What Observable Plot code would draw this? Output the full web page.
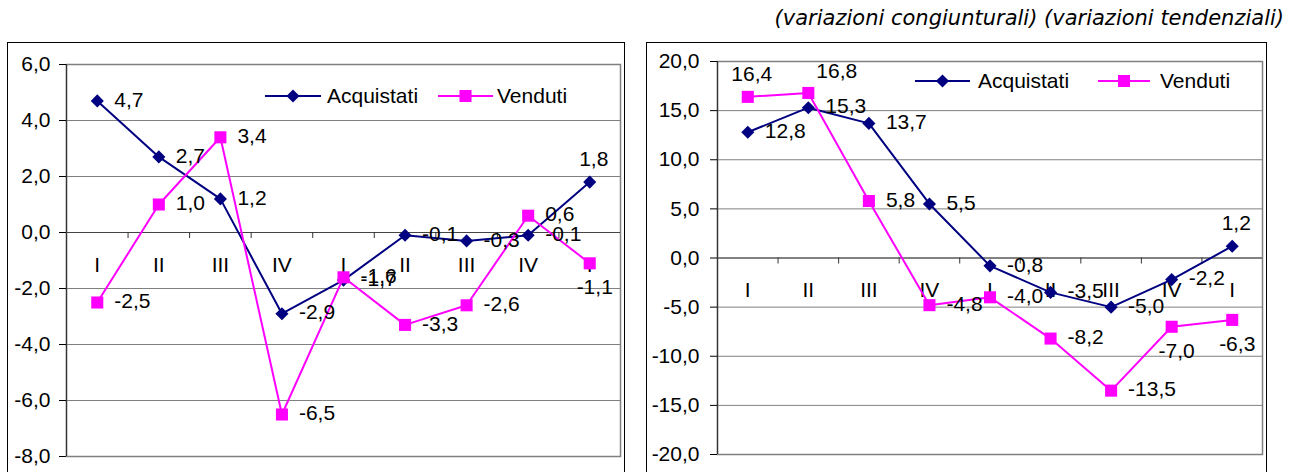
<!DOCTYPE html>
<html><head><meta charset="utf-8">
<script src="https://cdn.jsdelivr.net/npm/d3@7"></script>
<script src="https://cdn.jsdelivr.net/npm/@observablehq/plot@0.6"></script>
<style>
html,body{margin:0;padding:0;background:#fff;width:1297px;height:472px;overflow:hidden;}
body{position:relative;}
.box{position:absolute;border:1.5px solid #000;box-sizing:border-box;}
.title{position:absolute;top:5px;right:13px;font-family:"DejaVu Sans";font-style:italic;font-size:21px;white-space:nowrap;color:#000;line-height:26px;}
.panel{position:absolute;top:43px;}
</style></head><body>
<div class="title" id="title"></div>
<div class="box" style="left:7px;top:42px;width:618px;height:460px"></div>
<div class="box" style="left:646px;top:42px;width:621px;height:460px"></div>
<div class="panel" id="left" style="left:8px"></div>
<div class="panel" id="right" style="left:647px"></div>
<script>
const titleText = "(variazioni congiunturali) (variazioni tendenziali)";
const categories = ["I","II","III","IV","I","II","III","IV","I"];
const seriesNames = ["Acquistati","Venduti"];
const congAcquistati = [4.7, 2.7, 1.2, -2.9, -1.7, -0.1, -0.3, -0.1, 1.8];
const congVenduti = [-2.5, 1.0, 3.4, -6.5, -1.6, -3.3, -2.6, 0.6, -1.1];
const tendAcquistati = [12.8, 15.3, 13.7, 5.5, -0.8, -3.5, -5.0, -2.2, 1.2];
const tendVenduti = [16.4, 16.8, 5.8, -4.8, -4.0, -8.2, -13.5, -7.0, -6.3];
const congTicks = [-8, -6, -4, -2, 0, 2, 4, 6];
const tendTicks = [-20, -15, -10, -5, 0, 5, 10, 15, 20];
// data-label placement keywords (r = right, t = above, tr = above-right, b = below)
const congAcqPlace = ["r","r","r","r","r","r","r","r","t"];
const congVenPlace = ["r","r","r","r","r","r","r","r","b"];
const tendAcqPlace = ["r","r","r","r","r","r","r","r","t"];
const tendVenPlace = ["t","tr","r","r","r","r","r","b","b"];

document.getElementById("title").textContent = titleText;

const FONT = "Liberation Sans, Arial, sans-serif";
const NAVY = "#000080", MAGENTA = "#FF00FF";
const fmt = d => d.toFixed(1).replace(".", ",");
const placeOpts = {
  r: {textAnchor: "start", dx: 17, dy: -1},
  t: {textAnchor: "middle", dx: 4, dy: -23},
  tr: {textAnchor: "start", dx: 8, dy: -22},
  b: {textAnchor: "middle", dx: 5, dy: 24}
};

function rows(values, places) {
  return values.map((v, i) => ({x: i + 0.5, v, place: places[i]}));
}

function panel(cfg) {
  const A = rows(cfg.acq, cfg.acqPlace);
  const V = rows(cfg.ven, cfg.venPlace);
  const labelMarks = [];
  for (const data of [A, V]) {
    for (const p of Object.keys(placeOpts)) {
      labelMarks.push(Plot.text(data.filter(d => d.place === p), {
        x: "x", y: "v", text: d => fmt(d.v), fontSize: 21, fill: "#000", ...placeOpts[p]
      }));
    }
  }
  const chart = Plot.plot({
    width: cfg.width, height: 429,
    marginLeft: cfg.ml, marginRight: 4, marginTop: cfg.mt, marginBottom: cfg.mb,
    style: {fontFamily: FONT, fontSize: "21px", background: "transparent", color: "#000"},
    x: {domain: [0, 9], axis: null},
    y: {domain: cfg.domain},
    marks: [
      Plot.gridY(cfg.ticks, {stroke: "#808080", strokeOpacity: 1, strokeWidth: 1}),
      Plot.frame({stroke: "#808080", strokeWidth: 1.5}),
      Plot.ruleX([0], {stroke: "#333", strokeWidth: 1.2}),
      Plot.ruleY([0], {stroke: "#444", strokeWidth: 1.2}),
      Plot.ruleX(d3.range(1, 9), {x: d => d, y1: () => 0, y2: () => 0, insetBottom: -6, stroke: "#333", strokeWidth: 1}),
      Plot.axisY({ticks: cfg.ticks, tickFormat: fmt, tickSize: 7, tickPadding: cfg.pad, fontSize: 21, label: null, stroke: "#000"}),
      Plot.text(categories, {x: (d, i) => i + 0.5, y: () => 0, text: d => d, dy: cfg.catDy, fontSize: 21, fill: "#000"}),
      Plot.line(A, {x: "x", y: "v", stroke: NAVY, strokeWidth: 2}),
      Plot.dot(A, {x: "x", y: "v", symbol: "diamond2", r: 5.9, fill: NAVY, stroke: "none"}),
      Plot.line(V, {x: "x", y: "v", stroke: MAGENTA, strokeWidth: 2}),
      Plot.dot(V, {x: "x", y: "v", symbol: "square", r: 6.8, fill: MAGENTA, stroke: "none"}),
      ...labelMarks
    ]
  });
  // legend inside the plot area
  const svg = d3.select(chart);
  const items = [
    {name: seriesNames[0], color: NAVY, sym: d3.symbolDiamond2, r: 5.9, x0: cfg.leg[0], x1: cfg.leg[1], tx: cfg.leg[2]},
    {name: seriesNames[1], color: MAGENTA, sym: d3.symbolSquare, r: 6.8, x0: cfg.leg[3], x1: cfg.leg[4], tx: cfg.leg[5]}
  ];
  const g = svg.append("g");
  for (const it of items) {
    g.append("line").attr("x1", it.x0).attr("x2", it.x1).attr("y1", cfg.legY).attr("y2", cfg.legY)
      .attr("stroke", it.color).attr("stroke-width", 2);
    g.append("path").attr("d", d3.symbol().type(it.sym).size(Math.PI * it.r * it.r)())
      .attr("transform", `translate(${(it.x0 + it.x1) / 2},${cfg.legY})`).attr("fill", it.color);
    g.append("text").attr("x", it.tx).attr("y", cfg.legY).attr("dy", "0.35em")
      .style("font-size", "21px").style("font-family", FONT).style("text-anchor", "start")
      .attr("text-anchor", "start").attr("fill", "#000").text(it.name);
  }
  document.getElementById(cfg.id).appendChild(chart);
}

panel({id: "left", width: 616, ml: 58, mt: 21, mb: 16, domain: [-8, 6], ticks: congTicks, pad: 9,
  acq: congAcquistati, ven: congVenduti, acqPlace: congAcqPlace, venPlace: congVenPlace, catDy: 33,
  legY: 53, leg: [257, 313, 319, 430, 485, 489]});
panel({id: "right", width: 619, ml: 70, mt: 18, mb: 18, domain: [-20, 20], ticks: tendTicks, pad: 11,
  acq: tendAcquistati, ven: tendVenduti, acqPlace: tendAcqPlace, venPlace: tendVenPlace, catDy: 32,
  legY: 38, leg: [268, 323, 331, 451, 503, 513]});
</script>
</body></html>
